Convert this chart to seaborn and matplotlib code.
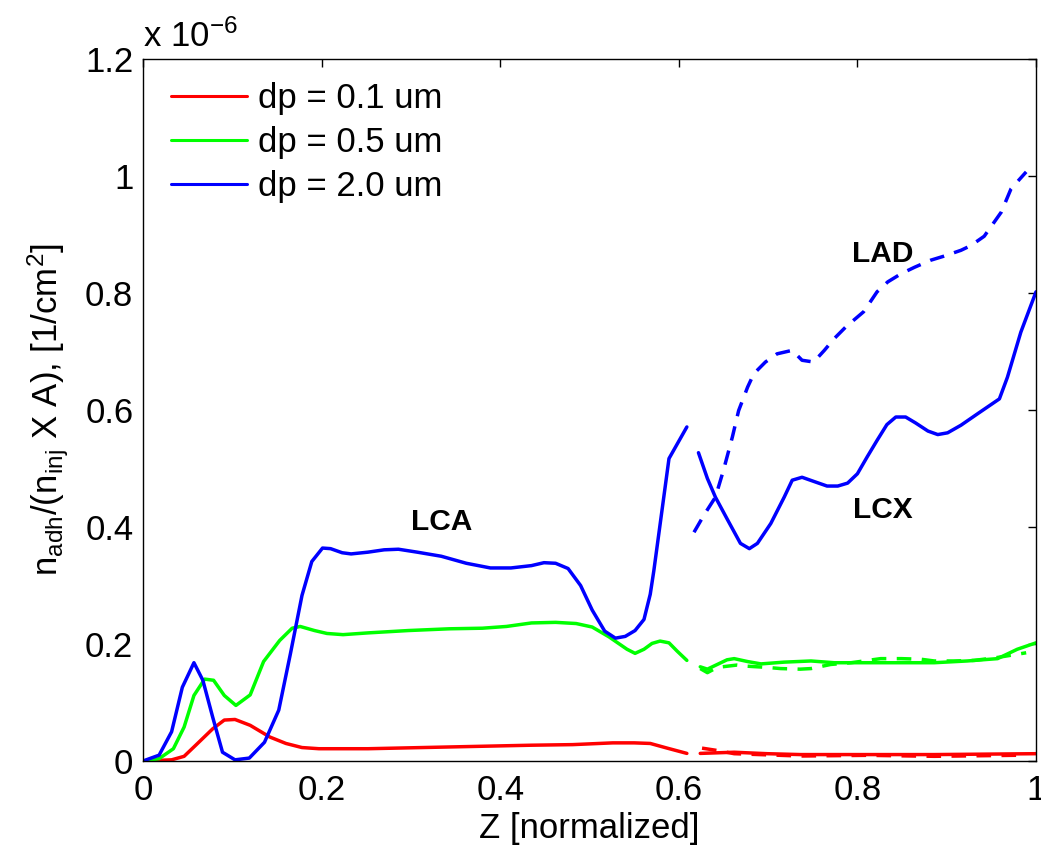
import numpy as np
import pandas as pd
import matplotlib
matplotlib.use("Agg")
import matplotlib.pyplot as plt
import seaborn as sns

# ---------------- data (values in units of 1e-6 1/cm^2) ----------------
# dp = 2.0 um (blue)
blue_lca_x = [0, 0.018, 0.032, 0.044, 0.057, 0.067, 0.078, 0.089, 0.103, 0.119, 0.136, 0.152,
              0.165, 0.178, 0.189, 0.201, 0.210, 0.223, 0.233, 0.252, 0.270, 0.286, 0.307,
              0.334, 0.362, 0.389, 0.412, 0.435, 0.449, 0.462, 0.476, 0.490, 0.503, 0.517,
              0.529, 0.540, 0.551, 0.561, 0.568, 0.572, 0.589, 0.609]
blue_lca_y = [0, 0.010, 0.050, 0.126, 0.168, 0.138, 0.075, 0.015, 0.002, 0.005, 0.032, 0.087,
              0.183, 0.283, 0.341, 0.364, 0.363, 0.356, 0.354, 0.357, 0.361, 0.362, 0.357,
              0.350, 0.338, 0.330, 0.330, 0.334, 0.339, 0.338, 0.329, 0.300, 0.258, 0.222,
              0.210, 0.213, 0.223, 0.242, 0.285, 0.325, 0.517, 0.571]
blue_lcx_x = [0.622, 0.632, 0.641, 0.654, 0.669, 0.679, 0.688, 0.703, 0.718, 0.727, 0.738,
              0.751, 0.766, 0.778, 0.789, 0.800, 0.811, 0.822, 0.833, 0.843, 0.854, 0.865,
              0.879, 0.890, 0.901, 0.916, 0.935, 0.959, 0.968, 0.983, 1.0]
blue_lcx_y = [0.527, 0.483, 0.451, 0.414, 0.372, 0.363, 0.372, 0.406, 0.451, 0.480, 0.485,
              0.478, 0.470, 0.470, 0.475, 0.491, 0.520, 0.548, 0.575, 0.588, 0.588, 0.578,
              0.564, 0.558, 0.561, 0.574, 0.594, 0.619, 0.656, 0.733, 0.802]
blue_lad_x = [0.617, 0.628, 0.641, 0.650, 0.660, 0.667, 0.677, 0.684, 0.697, 0.710, 0.727,
              0.738, 0.751, 0.763, 0.774, 0.787, 0.807, 0.822, 0.834, 0.849, 0.864, 0.882,
              0.897, 0.916, 0.927, 0.942, 0.961, 0.972, 0.989]
blue_lad_y = [0.391, 0.420, 0.451, 0.497, 0.554, 0.599, 0.639, 0.662, 0.682, 0.696, 0.702,
              0.685, 0.682, 0.702, 0.722, 0.742, 0.768, 0.802, 0.819, 0.833, 0.844, 0.856,
              0.863, 0.873, 0.881, 0.897, 0.938, 0.978, 1.007]

# dp = 0.5 um (green)
green_lca_x = [0, 0.018, 0.034, 0.046, 0.057, 0.069, 0.079, 0.091, 0.104, 0.120, 0.135, 0.153,
               0.167, 0.176, 0.192, 0.206, 0.224, 0.252, 0.297, 0.343, 0.380, 0.407, 0.435,
               0.462, 0.485, 0.503, 0.522, 0.542, 0.551, 0.561, 0.570, 0.579, 0.589, 0.598,
               0.609]
green_lca_y = [0, 0.004, 0.021, 0.058, 0.112, 0.140, 0.138, 0.112, 0.095, 0.113, 0.170, 0.206,
               0.227, 0.230, 0.223, 0.218, 0.216, 0.219, 0.223, 0.226, 0.227, 0.230, 0.236,
               0.237, 0.235, 0.229, 0.212, 0.191, 0.184, 0.191, 0.201, 0.205, 0.202, 0.188,
               0.172]
green_lcx_x = [0.624, 0.632, 0.643, 0.654, 0.662, 0.677, 0.692, 0.718, 0.748, 0.774, 0.811,
               0.849, 0.886, 0.923, 0.957, 0.979, 1.0]
green_lcx_y = [0.161, 0.157, 0.165, 0.173, 0.175, 0.170, 0.166, 0.169, 0.171, 0.168, 0.168,
               0.168, 0.168, 0.171, 0.175, 0.191, 0.202]
green_lad_x = [0.624, 0.632, 0.643, 0.665, 0.677, 0.699, 0.714, 0.736, 0.748, 0.770, 0.793,
               0.826, 0.849, 0.871, 0.886, 0.908, 0.931, 0.957, 0.989]
green_lad_y = [0.158, 0.151, 0.160, 0.164, 0.162, 0.160, 0.158, 0.157, 0.158, 0.165, 0.168,
               0.175, 0.175, 0.174, 0.171, 0.171, 0.172, 0.177, 0.185]

# dp = 0.1 um (red)
red_lca_x = [0, 0.032, 0.046, 0.059, 0.078, 0.091, 0.103, 0.120, 0.142, 0.160, 0.178, 0.197,
             0.252, 0.343, 0.435, 0.481, 0.526, 0.550, 0.568, 0.587, 0.609]
red_lca_y = [0, 0.002, 0.008, 0.027, 0.055, 0.070, 0.071, 0.061, 0.041, 0.030, 0.023, 0.021,
             0.021, 0.024, 0.027, 0.028, 0.031, 0.031, 0.030, 0.022, 0.013]
red_lcx_x = [0.624, 0.662, 0.699, 0.736, 0.811, 0.886, 1.0]
red_lcx_y = [0.013, 0.015, 0.0125, 0.011, 0.011, 0.011, 0.0125]
red_lad_x = [0.626, 0.643, 0.662, 0.736, 0.811, 0.886, 0.989]
red_lad_y = [0.022, 0.018, 0.0125, 0.0085, 0.0097, 0.008, 0.010]

series_labels = ["dp = 0.1 um", "dp = 0.5 um", "dp = 2.0 um"]
x_ticks = [0, 0.2, 0.4, 0.6, 0.8, 1.0]
x_ticklabels = ["0", "0.2", "0.4", "0.6", "0.8", "1"]
y_ticks = [0, 0.2, 0.4, 0.6, 0.8, 1.0, 1.2]
y_ticklabels = ["0", "0.2", "0.4", "0.6", "0.8", "1", "1.2"]

# ---------------- style ----------------
sns.set_theme(style="white")
plt.rcParams["font.family"] = ["Liberation Sans", "DejaVu Sans"]
plt.rcParams["mathtext.fontset"] = "custom"
plt.rcParams["mathtext.rm"] = "Liberation Sans"
plt.rcParams["mathtext.it"] = "Liberation Sans:italic"
plt.rcParams["mathtext.bf"] = "Liberation Sans:bold"
plt.rcParams["text.color"] = "black"
plt.rcParams["axes.labelcolor"] = "black"
plt.rcParams["xtick.color"] = "black"
plt.rcParams["ytick.color"] = "black"

FS = 25
RED, GREEN, BLUE = "#ff0000", "#00ff00", "#0000ff"
LW = 2.5

fig = plt.figure(figsize=(10.41, 8.5), dpi=100)
ax = fig.add_axes([0.1374, 0.1047, 0.8578, 0.8259])


def draw(xs, ys, color, dashed=False, label=None):
    df = pd.DataFrame({"x": xs, "y": ys})
    sns.lineplot(data=df, x="x", y="y", ax=ax, color=color, linewidth=LW,
                 sort=False, estimator=None, label=label, legend=False)
    line = ax.lines[-1]
    if dashed:
        line.set_dashes([4.2, 3.0])
    return line


h_red = draw(red_lca_x, red_lca_y, RED, label=series_labels[0])
h_green = draw(green_lca_x, green_lca_y, GREEN, label=series_labels[1])
h_blue = draw(blue_lca_x, blue_lca_y, BLUE, label=series_labels[2])
draw(red_lcx_x, red_lcx_y, RED)
draw(red_lad_x, red_lad_y, RED, dashed=True)
draw(green_lcx_x, green_lcx_y, GREEN)
draw(green_lad_x, green_lad_y, GREEN, dashed=True)
draw(blue_lcx_x, blue_lcx_y, BLUE)
draw(blue_lad_x, blue_lad_y, BLUE, dashed=True)

ax.set_xlim(0, 1)
ax.set_ylim(0, 1.2)
ax.set_xticks(x_ticks)
ax.set_xticklabels(x_ticklabels)
ax.set_yticks(y_ticks)
ax.set_yticklabels(y_ticklabels)
ax.tick_params(axis="both", direction="in", length=6, width=1, colors="black",
               labelsize=FS, top=True, right=True)
ax.tick_params(axis="x", pad=9)
ax.tick_params(axis="y", pad=7)
for sp in ax.spines.values():
    sp.set_visible(True)
    sp.set_color("black")
    sp.set_linewidth(1.0)

ax.set_xlabel("Z [normalized]", fontsize=FS, labelpad=4, color="black")
ax.set_ylabel(r"n$_{\mathregular{adh}}$/(n$_{\mathregular{inj}}$ X A), [1/cm$^{\mathregular{2}}$]",
              fontsize=FS, labelpad=10, color="black")

ax.text(0, 1.0 + 12 / 702, r"x 10$^{\mathregular{-6}}$", transform=ax.transAxes,
        fontsize=FS, va="baseline", ha="left", color="black")

ANN = 21.5
ax.text(0.334, 0.408, "LCA", fontsize=ANN, fontweight="bold", ha="center", va="center", color="black")
ax.text(0.828, 0.866, "LAD", fontsize=ANN, fontweight="bold", ha="center", va="center", color="black")
ax.text(0.828, 0.429, "LCX", fontsize=ANN, fontweight="bold", ha="center", va="center", color="black")

leg = ax.legend(handles=[h_red, h_green, h_blue], labels=series_labels, loc="upper left",
                frameon=False, fontsize=FS, handlelength=2.2, handletextpad=0.3,
                labelspacing=0.32, borderaxespad=0.0, borderpad=0.0,
                bbox_to_anchor=(28 / 893, 1 - 23 / 702))
for t in leg.get_texts():
    t.set_color("black")
for lh in leg.get_lines():
    lh.set_linewidth(2.2)

fig.savefig("out.png", dpi=100)
